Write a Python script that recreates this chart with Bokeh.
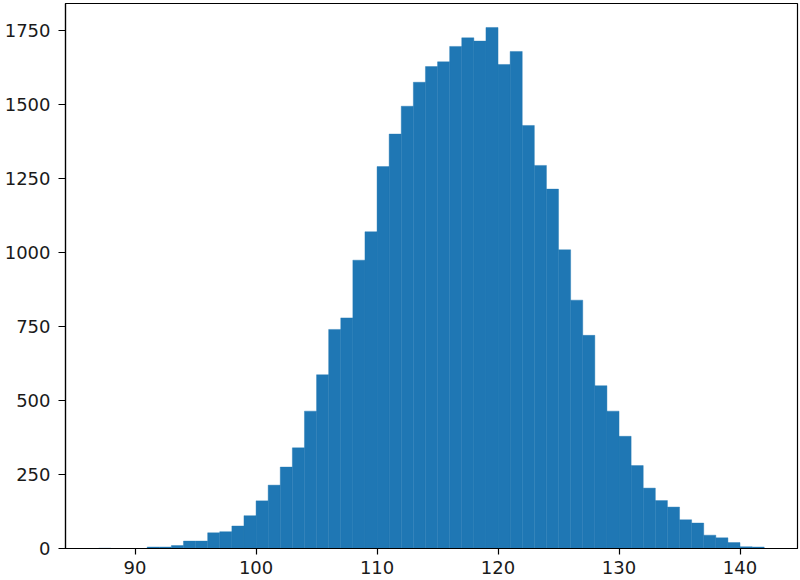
from bokeh.plotting import figure
from bokeh.models import Range1d, FixedTicker, ColumnDataSource
from bokeh.embed import file_html
from bokeh.resources import INLINE

# Histogram data: bins of width 1, left edges 87..141
bin_left = list(range(87, 142))
bin_right = [b + 1 for b in bin_left]
counts = [1, 0, 0, 0, 5, 5, 10, 25, 25, 53,
          57, 76, 111, 161, 214, 275, 340, 464, 587, 740,
          779, 974, 1070, 1290, 1400, 1494, 1575, 1628, 1644, 1696,
          1725, 1714, 1760, 1635, 1679, 1429, 1294, 1214, 1009, 839,
          720, 550, 464, 379, 280, 204, 162, 140, 97, 86,
          45, 36, 20, 6, 5]

x_ticks = [90, 100, 110, 120, 130, 140]
y_ticks = [0, 250, 500, 750, 1000, 1250, 1500, 1750]

src = ColumnDataSource(dict(left=bin_left, right=bin_right,
                            top=counts, bottom=[0] * len(counts)))

p = figure(width=800, height=580, output_backend="svg", toolbar_location=None,
           x_range=Range1d(84.25, 144.75), y_range=Range1d(0, 1841),
           min_border_left=65, min_border_right=3, min_border_top=3,
           min_border_bottom=32)

p.quad(left="left", right="right", top="top", bottom="bottom", source=src,
       fill_color="#1f77b4", line_color="#1f77b4", line_width=0.4)

p.xgrid.visible = False
p.ygrid.visible = False
p.background_fill_color = "white"
p.border_fill_color = "white"
p.outline_line_color = "black"
p.outline_line_width = 1.2
p.outline_line_alpha = 1.0

for ax, ticks in ((p.xaxis[0], x_ticks), (p.yaxis[0], y_ticks)):
    ax.ticker = FixedTicker(ticks=ticks)
    ax.minor_tick_line_color = None
    ax.major_tick_in = 0
    ax.major_tick_line_color = "black"
    ax.major_tick_line_width = 1.2
    ax.axis_line_color = "black"
    ax.axis_line_width = 1.2
    ax.major_label_text_font = "DejaVu Sans"
    ax.major_label_text_font_size = "18px"
    ax.major_label_text_color = "#1a1a1a"

p.xaxis.major_tick_out = 6
p.xaxis.major_label_standoff = 6
p.yaxis.major_tick_out = 7
p.yaxis.major_label_standoff = 8

open("out.html", "w").write(file_html(p, INLINE))
